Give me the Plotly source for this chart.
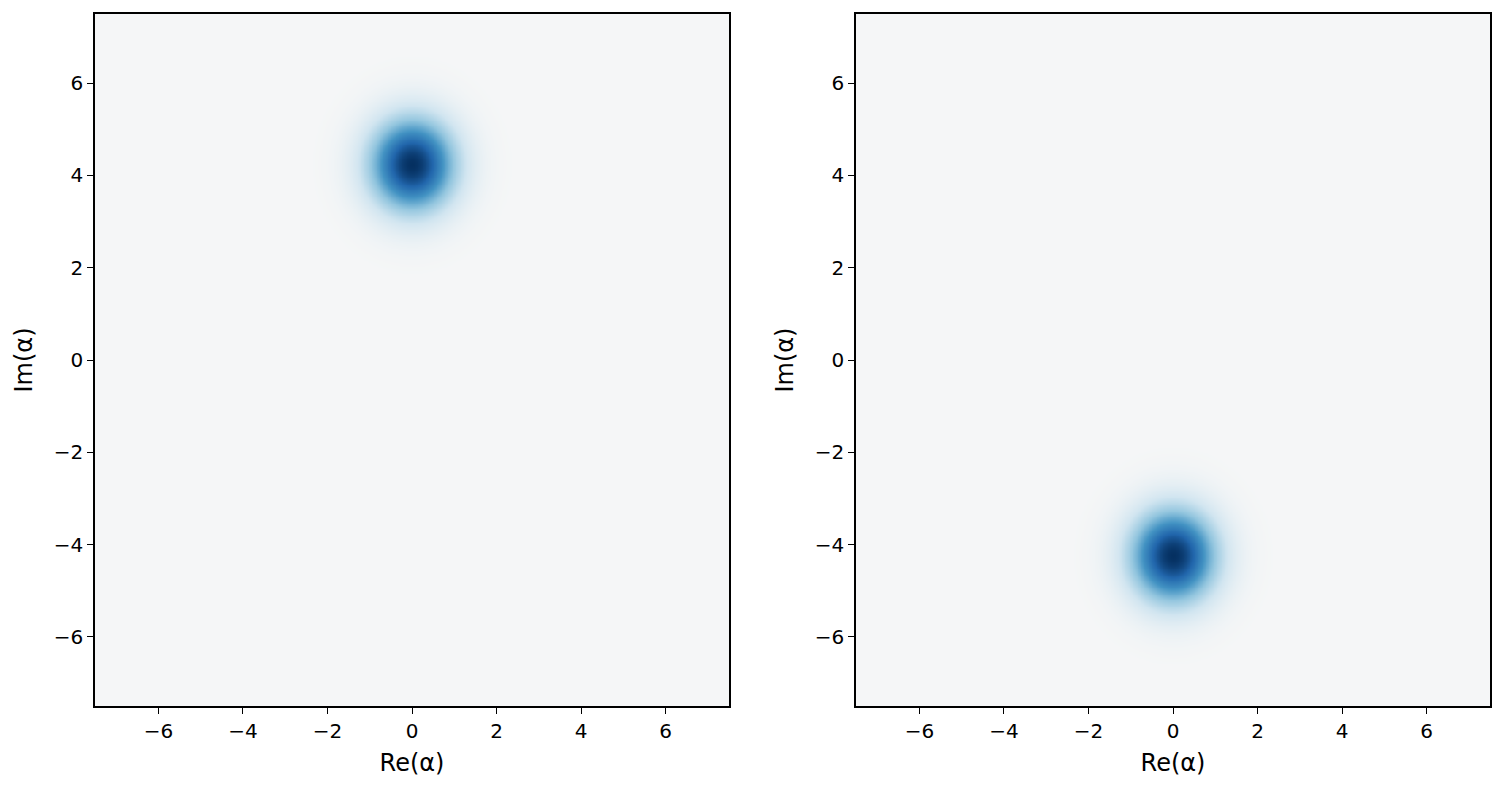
import numpy as np
import plotly.graph_objects as go

# Grid of phase-space points (Re(alpha), Im(alpha))
re_axis = np.linspace(-7.5, 7.5, 401)
im_axis = np.linspace(-7.5, 7.5, 401)

# Coherent-state centres
left_center_re = 0.0
left_center_im = 4.24
right_center_re = 0.0
right_center_im = -4.24

tick_vals = [-6, -4, -2, 0, 2, 4, 6]
tick_text = ["\u22126", "\u22124", "\u22122", "0", "2", "4", "6"]

rdbu = [
    [0.0, "rgb(103,0,31)"], [0.1, "rgb(178,24,43)"], [0.2, "rgb(214,96,77)"],
    [0.3, "rgb(244,165,130)"], [0.4, "rgb(253,219,199)"], [0.5, "rgb(247,247,247)"],
    [0.6, "rgb(209,229,240)"], [0.7, "rgb(146,197,222)"], [0.8, "rgb(67,147,195)"],
    [0.9, "rgb(33,102,172)"], [1.0, "rgb(5,48,97)"],
]


def husimi(c_re, c_im):
    X, Y = np.meshgrid(re_axis, im_axis)
    return np.exp(-((X - c_re) ** 2 + (Y - c_im) ** 2)) / np.pi + 0.003


z_left = husimi(left_center_re, left_center_im)
z_right = husimi(right_center_re, right_center_im)
zmax = float(max(z_left.max(), z_right.max()))

fig = go.Figure()
fig.add_trace(go.Heatmap(x=re_axis, y=im_axis, z=z_left, colorscale=rdbu,
                         zmin=-zmax, zmax=zmax, showscale=False,
                         xaxis="x", yaxis="y", zsmooth="best"))
fig.add_trace(go.Heatmap(x=re_axis, y=im_axis, z=z_right, colorscale=rdbu,
                         zmin=-zmax, zmax=zmax, showscale=False,
                         xaxis="x2", yaxis="y2", zsmooth="best"))

font = dict(family="DejaVu Sans", size=20, color="black")
axis_common = dict(range=[-7.5, 7.5], tickvals=tick_vals, ticktext=tick_text,
                   ticks="outside", ticklen=6, tickwidth=1.4, tickcolor="black",
                   showline=True, linecolor="black", linewidth=1.6, mirror=True,
                   showgrid=False, zeroline=False, tickfont=font)
title_font = dict(family="DejaVu Sans", size=24, color="black")

y_dom = [1 - 706 / 791, 1 - 14 / 791]
fig.update_layout(
    width=1504, height=791,
    margin=dict(l=0, r=0, t=0, b=0),
    paper_bgcolor="white", plot_bgcolor="white",
    xaxis=dict(domain=[95 / 1504, 729 / 1504], anchor="y",
               title=dict(text="Re(\u03b1)", font=title_font, standoff=12), **axis_common),
    yaxis=dict(domain=y_dom, anchor="x",
               title=dict(text="Im(\u03b1)", font=title_font, standoff=14), **axis_common),
    xaxis2=dict(domain=[856 / 1504, 1490 / 1504], anchor="y2",
                title=dict(text="Re(\u03b1)", font=title_font, standoff=12), **axis_common),
    yaxis2=dict(domain=y_dom, anchor="x2",
                title=dict(text="Im(\u03b1)", font=title_font, standoff=14), **axis_common),
)

fig.write_html("out.html", config={"displayModeBar": False},
               post_script="document.body.style.margin='0';document.body.style.overflow='hidden';")
